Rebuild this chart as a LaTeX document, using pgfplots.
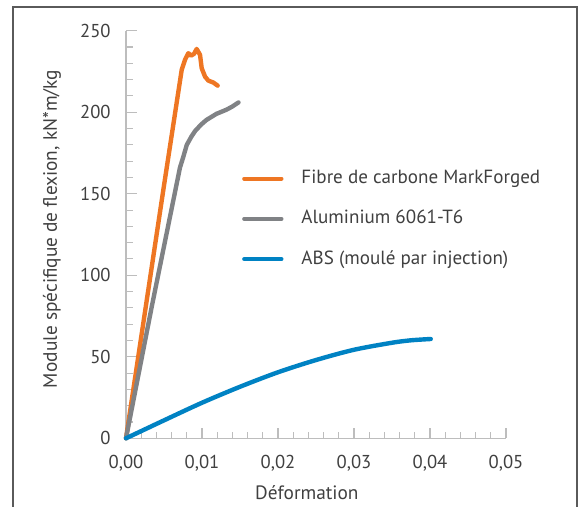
\documentclass[border=0pt]{standalone}
\usepackage{fontspec}
\setmainfont{PT Sans}
\usepackage{pgfplots}
\pgfplotsset{compat=1.18}
\definecolor{cOrange}{HTML}{EE7623}
\definecolor{cGray}{HTML}{808285}
\definecolor{cBlue}{HTML}{0082C3}
\definecolor{txt}{HTML}{404040}
\definecolor{axg}{HTML}{BDBDBD}
\definecolor{frameg}{HTML}{5A5A5A}
\begin{document}
\begin{tikzpicture}
\useasboundingbox (0pt,0pt) rectangle (435pt,379.5pt);
\draw[frameg, line width=1pt] (9.75pt,-2pt) -- (9.75pt,374.25pt) -- (432.75pt,374.25pt) -- (432.75pt,-2pt);
\begin{axis}[
  at={(94.5pt,50.78pt)}, anchor=origin,
  scale only axis, width=285pt, height=305.7pt,
  xmin=0, xmax=0.05, ymin=0, ymax=250,
  axis lines=left,
  axis line style={-, axg, line width=0.8pt},
  clip=false,
  scaled x ticks=false,
  xtick={0,0.01,0.02,0.03,0.04,0.05},
  xticklabels={{0,00},{0,01},{0,02},{0,03},{0,04},{0,05}},
  ytick={0,50,100,150,200,250},
  yticklabels={0,50,100,150,200,250},
  minor x tick num=4, minor y tick num=4,
  tick align=inside,
  major tick length=8pt, minor tick length=5pt,
  every tick/.style={axg, line width=0.8pt},
  tick label style={font=\fontsize{14}{16}\selectfont, text=txt},
  yticklabel style={xshift=-8pt},
  xticklabel style={yshift=-9pt},
  xlabel={Déformation},
  ylabel={Module spécifique de flexion, kN*m/kg},
  label style={font=\fontsize{14.5}{16}\selectfont, text=txt},
  xlabel style={at={(axis description cs:0.476,-0.134)}, anchor=center},
  ylabel style={at={(axis description cs:-0.195,0.5135)}, anchor=center, rotate=0},
  legend style={at={(axis description cs:0.305,0.66)}, anchor=north west,
    draw=none, fill=none, inner sep=0pt, row sep=16.7pt, column sep=13.5pt,
    font=\fontsize{14.3}{16}\selectfont, text=txt,
    nodes={inner sep=0pt, text height=10.5pt, text depth=3pt}},
  legend cell align=left,
  legend image code/.code={\draw[#1, line width=3pt, line cap=round] (2pt,0pt) -- (30pt,0pt);},
  every axis plot/.append style={line width=3.3pt, line cap=round, line join=round},
]
\addplot[cOrange] coordinates {
(0,0) (0.00491,152.3) (0.00733,226) (0.00776,232.1) (0.0082,236.2) (0.00855,234.7)
(0.00895,235.8) (0.0093,238.8) (0.00974,235.2) (0.00996,227) (0.0104,221.8)
(0.01083,219.4) (0.01149,218.2) (0.01206,216.3)
};
\addlegendentry{Fibre de carbone MarkForged}
\addplot[cGray] coordinates {
(0,0) (0.0034,81) (0.0071,166) (0.0075,172) (0.0080,180) (0.0086,185) (0.0091,188.5)
(0.0099,192.5) (0.0106,195.3) (0.0119,199) (0.0132,201.5) (0.0140,203.5) (0.0148,206)
};
\addlegendentry{Aluminium 6061-T6}
\addplot[cBlue, smooth] coordinates {
(0,0) (0.005,11) (0.01,21.8) (0.015,31.6) (0.02,40.5) (0.025,48.0)
(0.03,54.3) (0.035,58.6) (0.0375,60.1) (0.0401,60.9)
};
\addlegendentry{ABS (moulé par injection)}
\end{axis}
\end{tikzpicture}
\end{document}
